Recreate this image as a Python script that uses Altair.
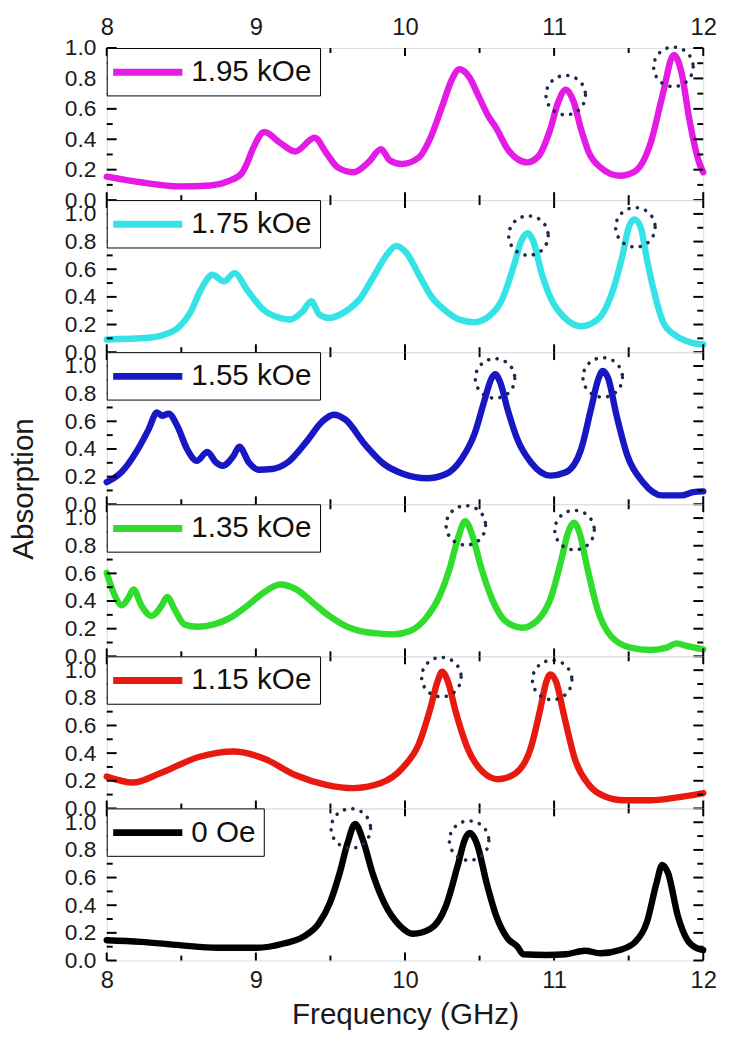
import altair as alt
import pandas as pd

# ---------------- data ----------------
FIELDS = ["1.95 kOe", "1.75 kOe", "1.55 kOe", "1.35 kOe", "1.15 kOe", "0 Oe"]
COLORS = ["#e41be4", "#35e3e6", "#1717c4", "#30dc2c", "#e81a10", "#000000"]
YMAX = [1.0, 1.1, 1.1, 1.1, 1.1, 1.1]

f_195 = [8.0, 8.228, 8.487, 8.694, 8.824, 8.902, 8.94, 8.979, 9.057, 9.161, 9.264, 9.394, 9.472,
         9.549, 9.653, 9.756, 9.839, 9.899, 9.977, 10.093, 10.171, 10.249, 10.313, 10.365, 10.43,
         10.495, 10.56, 10.611, 10.689, 10.754, 10.819, 10.896, 10.974, 11.026, 11.078, 11.13,
         11.181, 11.233, 11.311, 11.44, 11.544, 11.648, 11.725, 11.803, 11.855, 11.907, 11.972, 12.0]
a_195 = [0.154, 0.117, 0.09, 0.096, 0.128, 0.172, 0.24, 0.335, 0.448, 0.378, 0.32, 0.41, 0.31,
         0.215, 0.183, 0.25, 0.335, 0.26, 0.237, 0.28, 0.41, 0.616, 0.79, 0.86, 0.81,
         0.68, 0.55, 0.475, 0.334, 0.27, 0.248, 0.29, 0.465, 0.64, 0.726, 0.65,
         0.465, 0.313, 0.215, 0.16, 0.19, 0.378, 0.68, 0.955, 0.835, 0.53, 0.248, 0.183]

f_175 = [8.0, 8.278, 8.389, 8.477, 8.565, 8.631, 8.709, 8.786, 8.857, 8.940, 9.05, 9.161, 9.227,
         9.315, 9.371, 9.426, 9.492, 9.603, 9.702, 9.79, 9.878, 9.94, 10.011, 10.099, 10.176,
         10.276, 10.364, 10.463, 10.563, 10.651, 10.728, 10.783, 10.823, 10.861, 10.916, 10.982,
         11.071, 11.181, 11.292, 11.38, 11.457, 11.502, 11.539, 11.579, 11.623, 11.678, 11.733,
         11.821, 11.909, 12.0]
a_175 = [0.092, 0.104, 0.128, 0.176, 0.296, 0.452, 0.56, 0.512, 0.572, 0.452, 0.308, 0.248, 0.236,
         0.296, 0.368, 0.272, 0.248, 0.296, 0.392, 0.548, 0.704, 0.769, 0.716, 0.548, 0.404,
         0.296, 0.236, 0.217, 0.26, 0.38, 0.62, 0.812, 0.86, 0.8, 0.572, 0.38,
         0.248, 0.188, 0.236, 0.404, 0.692, 0.908, 0.96, 0.908, 0.668, 0.404, 0.212,
         0.116, 0.073, 0.056]

f_155 = [8.0, 8.098, 8.202, 8.28, 8.337, 8.37, 8.415, 8.474, 8.539, 8.604, 8.674, 8.733, 8.777,
         8.85, 8.889, 8.953, 9.018, 9.109, 9.212, 9.342, 9.446, 9.523, 9.601, 9.731, 9.86, 9.99,
         10.145, 10.275, 10.378, 10.469, 10.534, 10.58, 10.606, 10.637, 10.689, 10.754, 10.845,
         10.974, 11.078, 11.181, 11.246, 11.298, 11.326, 11.363, 11.415, 11.492, 11.596, 11.725,
         11.855, 11.933, 12.0]
a_155 = [0.16, 0.231, 0.386, 0.54, 0.664, 0.64, 0.655, 0.564, 0.398, 0.314, 0.379, 0.302, 0.279,
         0.35, 0.417, 0.302, 0.25, 0.255, 0.302, 0.457, 0.6, 0.648, 0.612, 0.433, 0.29, 0.219,
         0.188, 0.219, 0.326, 0.517, 0.755, 0.91, 0.94, 0.886, 0.683, 0.469, 0.302,
         0.207, 0.231, 0.398, 0.683, 0.91, 0.964, 0.91, 0.66, 0.35, 0.16, 0.064,
         0.064, 0.088, 0.093]

f_135 = [8.0, 8.046, 8.101, 8.146, 8.179, 8.234, 8.3, 8.366, 8.406, 8.455, 8.521, 8.609, 8.72,
         8.83, 8.94, 9.051, 9.161, 9.272, 9.382, 9.492, 9.603, 9.702, 9.812, 9.923, 10.033,
         10.143, 10.232, 10.298, 10.353, 10.404, 10.453, 10.508, 10.585, 10.673, 10.784, 10.894,
         10.982, 11.049, 11.093, 11.133, 11.17, 11.225, 11.291, 11.38, 11.512, 11.645, 11.755,
         11.821, 11.887, 12.0]
a_135 = [0.605, 0.46, 0.369, 0.424, 0.484, 0.364, 0.292, 0.364, 0.429, 0.34, 0.231, 0.214, 0.231,
         0.28, 0.364, 0.46, 0.52, 0.484, 0.388, 0.292, 0.219, 0.183, 0.166, 0.159, 0.183,
         0.28, 0.436, 0.629, 0.846, 0.978, 0.87, 0.653, 0.412, 0.255, 0.207, 0.267,
         0.436, 0.701, 0.894, 0.966, 0.894, 0.629, 0.34, 0.147, 0.063, 0.046, 0.063,
         0.094, 0.075, 0.051]

f_115 = [8.0, 8.176, 8.358, 8.617, 8.85, 9.057, 9.264, 9.472, 9.653, 9.834, 9.99, 10.093, 10.171,
         10.218, 10.249, 10.288, 10.339, 10.417, 10.521, 10.624, 10.741, 10.845, 10.909, 10.948,
         10.974, 11.013, 11.065, 11.142, 11.233, 11.337, 11.466, 11.648, 11.803, 12.0]
a_115 = [0.23, 0.187, 0.254, 0.372, 0.412, 0.36, 0.242, 0.171, 0.147, 0.182, 0.301, 0.467, 0.727,
         0.917, 0.988, 0.917, 0.704, 0.443, 0.265, 0.211, 0.254, 0.443, 0.727, 0.917,
         0.969, 0.917, 0.68, 0.348, 0.171, 0.088, 0.059, 0.059, 0.076, 0.111]

f_0 = [8.0, 8.228, 8.487, 8.746, 9.005, 9.187, 9.316, 9.42, 9.497, 9.562, 9.614, 9.666, 9.718,
       9.782, 9.86, 9.964, 10.054, 10.171, 10.275, 10.352, 10.404, 10.435, 10.482, 10.547, 10.611,
       10.689, 10.754, 10.793, 10.948, 11.078, 11.207, 11.311, 11.44, 11.544, 11.622, 11.687,
       11.725, 11.764, 11.829, 11.894, 11.959, 12.0]
a_0 = [0.147, 0.135, 0.111, 0.092, 0.092, 0.123, 0.171, 0.265, 0.419, 0.633, 0.846, 0.988, 0.87,
       0.633, 0.419, 0.254, 0.194, 0.23, 0.396, 0.68, 0.882, 0.922, 0.846, 0.562, 0.325,
       0.159, 0.1, 0.045, 0.04, 0.045, 0.071, 0.052, 0.076, 0.135, 0.277, 0.562,
       0.692, 0.633, 0.325, 0.147, 0.088, 0.076]

# dotted circles marking the resonance peaks
cf_195, ca_195 = [11.078, 11.80], [0.69, 0.876]
cf_175, ca_175 = [10.828, 11.545], [0.843, 0.903]
cf_155, ca_155 = [10.604, 11.326], [0.91, 0.917]
cf_135, ca_135 = [10.408, 11.137], [0.947, 0.913]
cf_115, ca_115 = [10.244, 10.987], [0.95, 0.929]
cf_0, ca_0 = [9.637, 10.43], [0.955, 0.867]

SERIES_F = [f_195, f_175, f_155, f_135, f_115, f_0]
SERIES_A = [a_195, a_175, a_155, a_135, a_115, a_0]
CIRC_F = [cf_195, cf_175, cf_155, cf_135, cf_115, cf_0]
CIRC_A = [ca_195, ca_175, ca_155, ca_135, ca_115, ca_0]

X_MAJOR = [8, 9, 10, 11, 12]
X_MINOR = [8.5, 9.5, 10.5, 11.5]
Y_LABELS = [0.0, 0.2, 0.4, 0.6, 0.8, 1.0]
Y_MINOR = [0.1, 0.3, 0.5, 0.7, 0.9]

# ---------------- layout ----------------
W, H = 604, 154
FONT = "Liberation Sans"
TXT = "#1a1a1a"
XMAJ_LEN, XMIN_LEN, YMAJ_LEN, YMIN_LEN = 8, 5, 10, 6


def blank_axis(orient):
    return alt.Axis(orient=orient, labels=False, domain=False, ticks=False, grid=False, title=None)


def panel(i):
    ymax = YMAX[i]
    df = pd.DataFrame({"Frequency": SERIES_F[i], "Absorption": SERIES_A[i], "Field": FIELDS[i]})
    cdf = pd.DataFrame({"Frequency": CIRC_F[i], "Absorption": CIRC_A[i]})
    xsc = alt.Scale(domain=[8, 12], nice=False, zero=False)
    ysc = alt.Scale(domain=[0, ymax], nice=False, zero=False)

    def X(ax, field="Frequency:Q"):
        return alt.X(field, scale=xsc, axis=ax)

    def Y(ax, field="Absorption:Q"):
        return alt.Y(field, scale=ysc, axis=ax)

    xlab = dict(values=X_MAJOR, format="d", ticks=False, domain=False, grid=False,
                labelFlush=False, labelFontSize=24, labelFont=FONT, labelColor=TXT)
    if i == 5:
        xb = alt.Axis(orient="bottom", labelPadding=8, title="Frequency (GHz)", titleFontSize=30,
                      titleFont=FONT, titleFontWeight="normal", titleColor=TXT, titlePadding=8,
                      **xlab)
    else:
        xb = blank_axis("bottom")
    if i == 0:
        xt = alt.Axis(orient="top", labelPadding=9, title=None, **xlab)
    else:
        xt = blank_axis("top")

    ykw = dict(orient="left", values=Y_LABELS, format=".1f", ticks=False, domain=False,
               grid=False, labelFontSize=23, labelFont=FONT, labelColor=TXT,
               labelPadding=11, labelOverlap=False, labelFlush=False)
    if i == 3:
        ykw.update(title="Absorption", titleFontSize=30, titleFont=FONT,
                   titleFontWeight="normal", titleColor=TXT, titlePadding=26, titleY=-16)
    else:
        ykw.update(title=None)
    yl = alt.Axis(**ykw)

    legend = alt.Legend(title=None, orient="none", legendX=0, legendY=0,
                        symbolType="M-2.6923,0H2.6923", symbolSize=676, symbolStrokeWidth=7,
                        symbolOffset=17, labelOffset=27.5, labelFontSize=30, labelFont=FONT,
                        labelColor="#111111", padding=8, strokeColor="black", fillColor="white")

    line = alt.Chart(df).mark_line(strokeWidth=6.5, strokeCap="round", strokeJoin="round",
                                   interpolate="monotone").encode(
        x=X(xb), y=Y(yl),
        color=alt.Color("Field:N", scale=alt.Scale(domain=[FIELDS[i]], range=[COLORS[i]]),
                        legend=legend),
    )
    circles = alt.Chart(cdf).mark_point(shape="circle", size=1600, filled=False,
                                        stroke="#1b2b48", strokeWidth=3.6,
                                        strokeDash=[0.1, 8.6], strokeCap="round",
                                        opacity=1).encode(x=X(xt), y=Y(None))

    # inward tick marks on all four sides (Origin style); positions come from the scales
    layers = []
    for vals, ln in ((X_MAJOR, XMAJ_LEN), (X_MINOR, XMIN_LEN)):
        d = pd.DataFrame({"tx": vals, "len": [ln] * len(vals)})
        for ypos in (H - ln / 2, ln / 2):
            layers.append(alt.Chart(d).mark_tick(color="black", thickness=2, size=ln,
                                                 opacity=1).encode(
                x=X(None, "tx:Q"), y=alt.value(ypos)))
    for vals, ln in ((Y_LABELS, YMAJ_LEN), (Y_MINOR, YMIN_LEN)):
        d = pd.DataFrame({"ty": vals, "len": [ln] * len(vals)})
        layers.append(alt.Chart(d).mark_rule(color="black", strokeWidth=2, opacity=1).encode(
            y=Y(None, "ty:Q"), x=alt.value(0), x2=alt.value(ln)))
        layers.append(alt.Chart(d).mark_rule(color="black", strokeWidth=2, opacity=1).encode(
            y=Y(None, "ty:Q"), x=alt.value(W), x2=alt.value(W - ln)))

    return alt.layer(line, circles, *layers).resolve_axis(
        x="independent", y="independent").properties(width=W, height=H)


chart = alt.vconcat(*[panel(i) for i in range(6)], spacing=0, bounds="flush").resolve_scale(
    color="independent").properties(
    padding={"left": 0, "top": 0, "right": 5, "bottom": 5}
).configure_view(stroke="black", strokeWidth=2).configure(background="white")

chart.save("out.html", embed_options={"renderer": "svg", "actions": False})
